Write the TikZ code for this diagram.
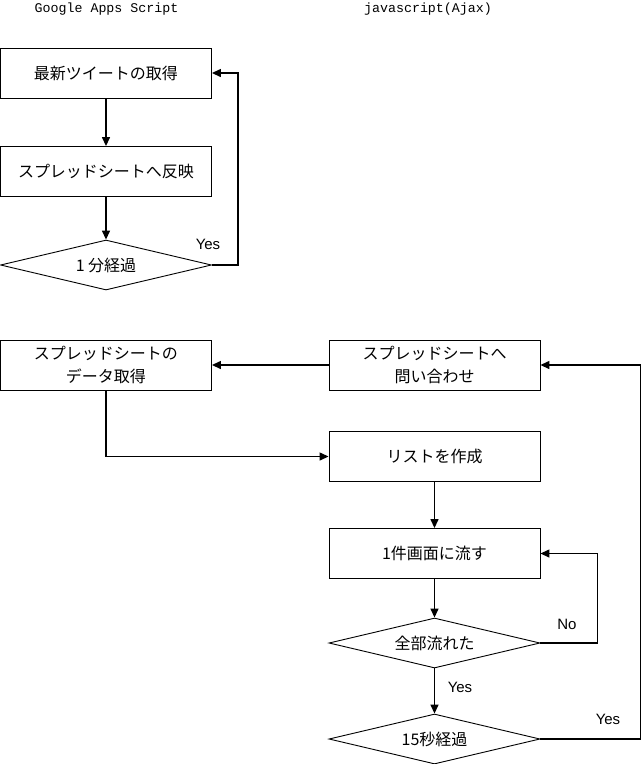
\documentclass[tikz,border=0pt]{standalone}
\usepackage{fontspec}
\setmainfont{Liberation Sans}
\newfontfamily\jpfont{Noto Sans CJK JP}
\newfontfamily\monofont{Liberation Mono}
\usetikzlibrary{shapes.geometric,arrows.meta}
\begin{document}
\begin{tikzpicture}[x=1pt,y=-1pt,
  box/.style={draw,line width=0.9pt,minimum width=211pt,minimum height=50pt,inner sep=0pt,align=center,
    font=\jpfont\fontsize{16}{23}\selectfont},
  dec/.style={draw,diamond,aspect=4.22,line width=0.9pt,minimum width=211pt,minimum height=50pt,inner sep=0pt,
    font=\jpfont\fontsize{16}{23}\selectfont},
  conn/.style={line width=1.4pt,-{Triangle[length=9pt,width=8pt]}},
  lbl/.style={font=\fontsize{15}{18}\selectfont,inner sep=0pt},
  hdr/.style={font=\monofont\fontsize{13.3}{16}\selectfont,inner sep=0pt}]
\useasboundingbox (0,0) rectangle (642,764);
% headers
\node[hdr] (h1) at (106.5,9) {Google Apps Script};
\node[hdr] (h2) at (428,9) {javascript(Ajax)};
% top flow
\node[box] (a1) at (106,73) {最新ツイートの取得};
\node[box] (a2) at (106,171.5) {スプレッドシートへ反映};
\node[dec] (d1) at (106,265) {1 分経過};
\draw[conn] (a1) -- (a2);
\draw[conn] (a2) -- (d1);
\draw[conn] (d1.east) -- ++(26,0) |- (a1.east);
\node[lbl] (y1) at (208,244) {Yes};
% bottom flow
\node[box] (b1) at (106,365) {スプレッドシートの\\データ取得};
\node[box] (b2) at (434.5,365) {スプレッドシートへ\\問い合わせ};
\node[box] (b3) at (434.5,456.5) {リストを作成};
\node[box] (b4) at (434.5,553.5) {1件画面に流す};
\node[dec] (d2) at (434.5,643) {全部流れた};
\node[dec] (d3) at (434.5,739) {15秒経過};
\draw[conn] (b2) -- (b1);
\draw[conn] (b1.south) |- (b3.west);
\draw[conn] (b3) -- (b4);
\draw[conn] (b4) -- (d2);
\draw[conn] (d2) -- (d3);
\draw[conn] (d2.east) -- ++(57,0) |- (b4.east);
\draw[conn] (d3.east) -- ++(100,0) |- (b2.east);
\node[lbl] (n1) at (567,624) {No};
\node[lbl] (y2) at (460,687) {Yes};
\node[lbl] (y3) at (608,719) {Yes};
\end{tikzpicture}
\end{document}
